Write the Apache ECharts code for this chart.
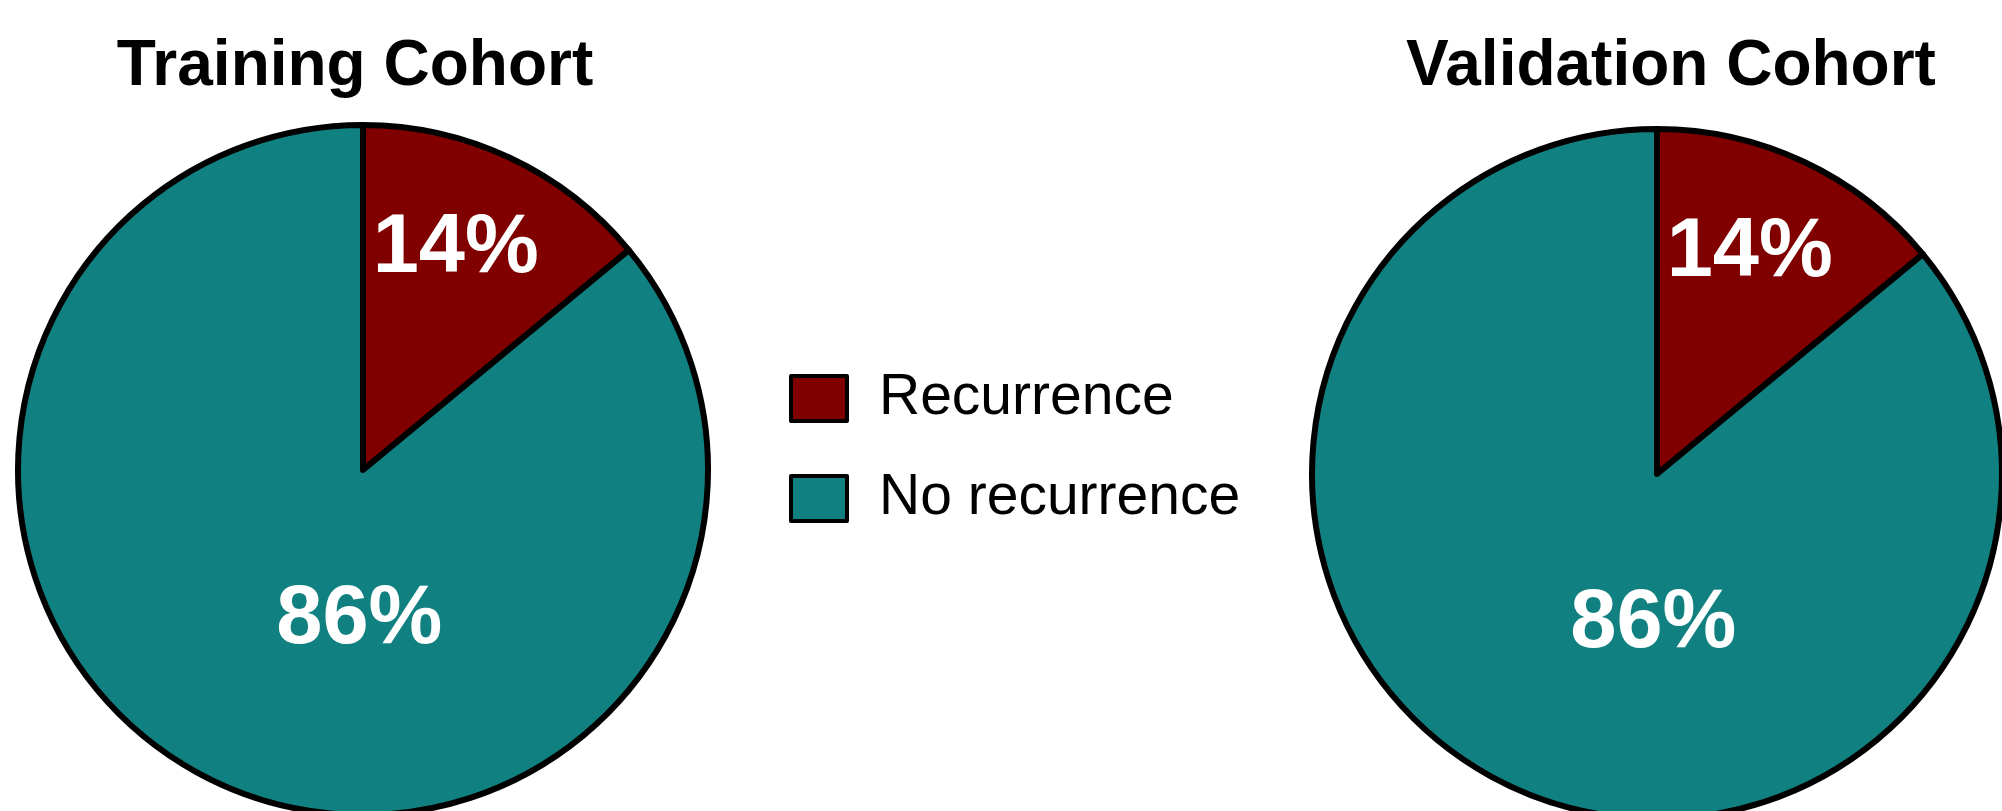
<!DOCTYPE html>
<html>
<head>
<meta charset="utf-8">
<title>Recurrence by cohort</title>
<script src="https://cdn.jsdelivr.net/npm/echarts@6/dist/echarts.min.js"></script>
<style>
  html, body { margin: 0; padding: 0; background: #ffffff; }
  #chart { width: 2002px; height: 811px; }
</style>
</head>
<body>
<div id="chart"></div>
<script>
// Outcome categories and share (%) of patients in each cohort
const categories = ['Recurrence', 'No recurrence'];
const cohorts = ['Training Cohort', 'Validation Cohort'];
const trainingShare = [14, 86];
const validationShare = [14, 86];

const FONT = '"Liberation Sans", Arial, Helvetica, sans-serif';
const COLORS = ['#800000', '#118080'];

// Nudges from the default "inside" label spot, per slice
const labelNudge = [
  { dx: 18, dy: -62 },
  { dx: 71, dy: -9 }
];

function pieSeries(name, values, center) {
  return {
    type: 'pie',
    name: name,
    center: center,
    radius: 345,
    startAngle: 90,
    clockwise: true,
    silent: true,
    avoidLabelOverlap: false,
    itemStyle: { borderColor: '#000000', borderWidth: 6 },
    label: {
      show: true,
      position: 'inside',
      formatter: '{c}%',
      color: '#ffffff',
      fontFamily: FONT,
      fontWeight: 'bold',
      fontSize: 83
    },
    labelLine: { show: false },
    labelLayout: function (p) { return labelNudge[p.dataIndex]; },
    emphasis: { disabled: true },
    data: categories.map((c, i) => ({ name: c, value: values[i], itemStyle: { color: COLORS[i] } }))
  };
}

const chart = echarts.init(document.getElementById('chart'), null, { renderer: 'canvas' });
chart.setOption({
  animation: false,
  backgroundColor: '#ffffff',
  color: COLORS,
  title: [
    { text: cohorts[0], left: 350, top: 30, textAlign: 'center',
      textStyle: { fontFamily: FONT, fontWeight: 'bold', fontSize: 64, color: '#000' } },
    { text: cohorts[1], left: 1666, top: 30, textAlign: 'center',
      textStyle: { fontFamily: FONT, fontWeight: 'bold', fontSize: 64, color: '#000' } }
  ],
  legend: {
    orient: 'vertical',
    left: 784,
    top: 365,
    itemWidth: 56,
    itemHeight: 45,
    itemGap: 43,
    icon: 'rect',
    selectedMode: false,
    data: categories,
    itemStyle: { borderColor: '#000000', borderWidth: 4 },
    textStyle: { fontFamily: FONT, fontSize: 57, color: '#000', padding: [0, 0, 0, 27] }
  },
  series: [
    pieSeries(cohorts[0], trainingShare, [363, 470]),
    pieSeries(cohorts[1], validationShare, [1657, 474])
  ]
});
</script>
</body>
</html>
